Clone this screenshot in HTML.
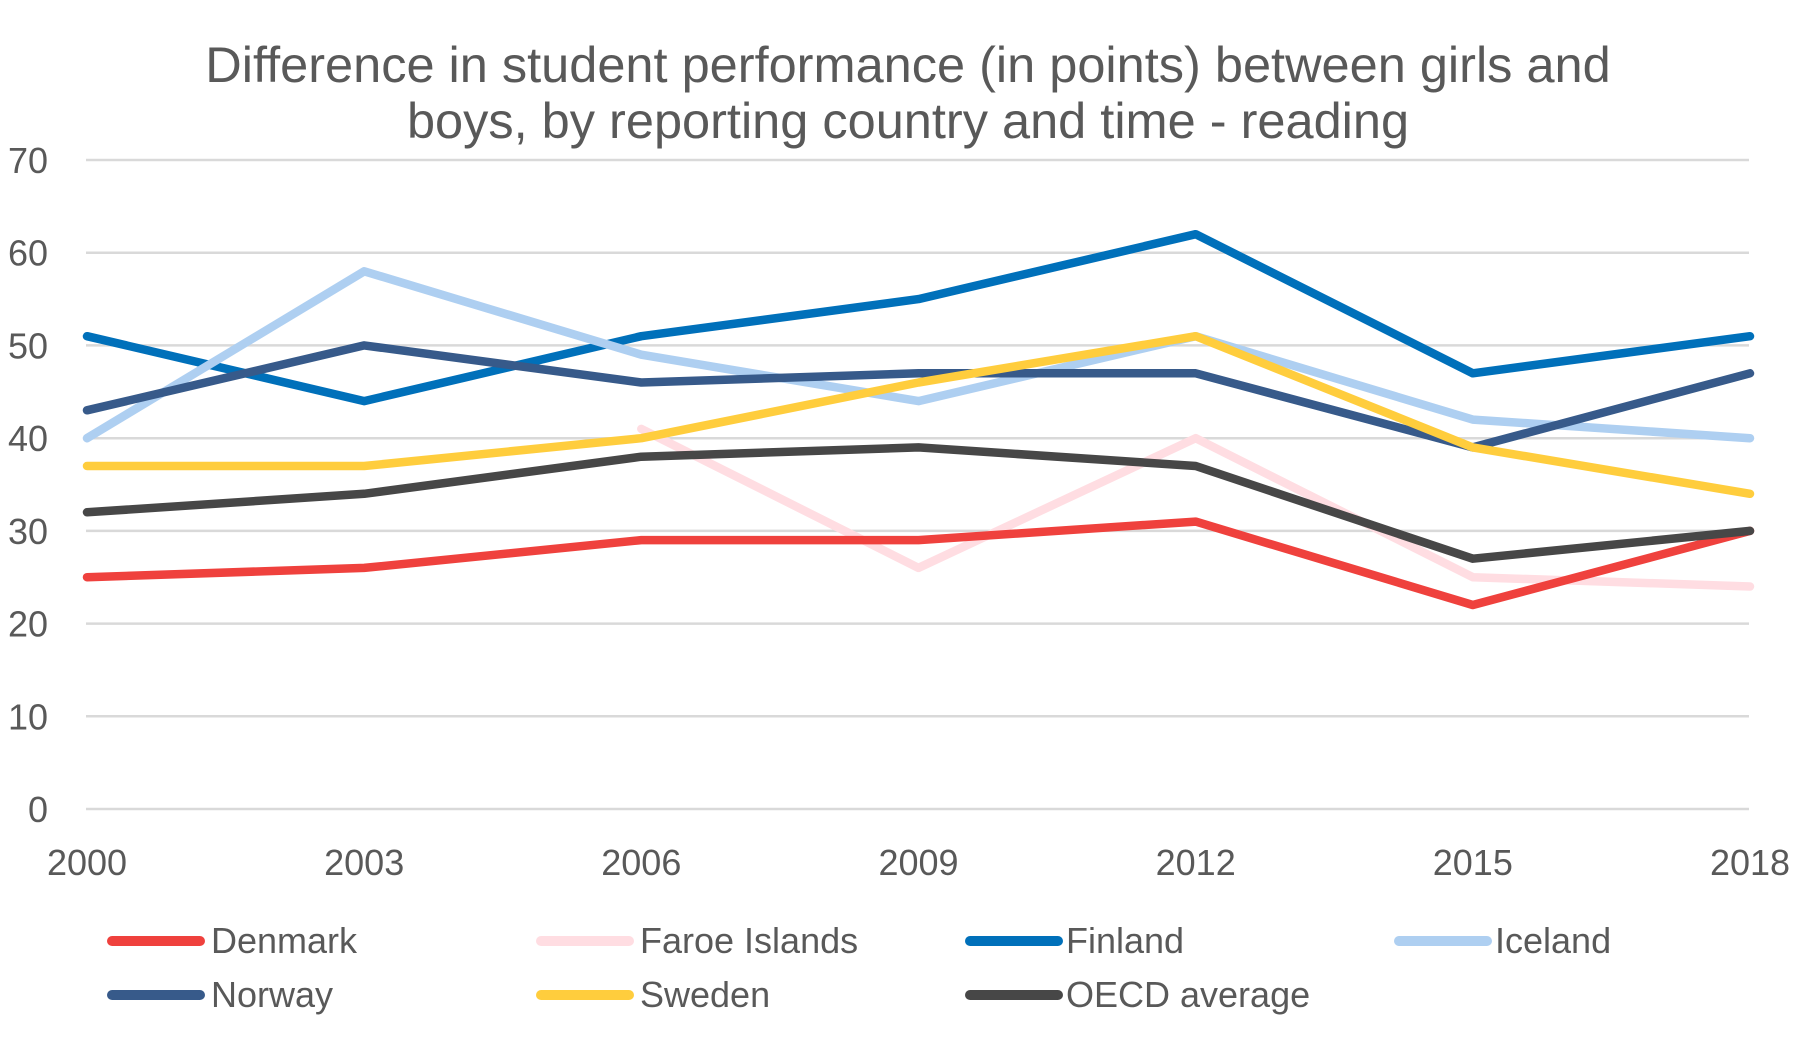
<!DOCTYPE html>
<html>
<head>
<meta charset="utf-8">
<style>
  html,body{margin:0;padding:0;background:#fff;}
  svg{display:block;}
  text{font-family:"Liberation Sans",Arial,sans-serif;fill:#595959;}
</style>
</head>
<body>
<svg width="1819" height="1049" viewBox="0 0 1819 1049" xmlns="http://www.w3.org/2000/svg">
  <rect width="1819" height="1049" fill="#ffffff"/>
  <!-- Title -->
  <text x="908" y="82" font-size="50.5" text-anchor="middle">Difference in student performance (in points) between girls and</text>
  <text x="908" y="138" font-size="50.5" text-anchor="middle">boys, by reporting country and time - reading</text>

  <!-- Gridlines -->
  <g stroke="#d9d9d9" stroke-width="2.5">
    <line x1="86" y1="160" x2="1749" y2="160"/>
    <line x1="86" y1="252.7" x2="1749" y2="252.7"/>
    <line x1="86" y1="345.4" x2="1749" y2="345.4"/>
    <line x1="86" y1="438.2" x2="1749" y2="438.2"/>
    <line x1="86" y1="530.9" x2="1749" y2="530.9"/>
    <line x1="86" y1="623.6" x2="1749" y2="623.6"/>
    <line x1="86" y1="716.3" x2="1749" y2="716.3"/>
    <line x1="86" y1="809" x2="1749" y2="809"/>
  </g>

  <!-- Y labels -->
  <g font-size="36" text-anchor="end">
    <text x="48" y="173">70</text>
    <text x="48" y="265.7">60</text>
    <text x="48" y="358.4">50</text>
    <text x="48" y="451.2">40</text>
    <text x="48" y="543.9">30</text>
    <text x="48" y="636.6">20</text>
    <text x="48" y="729.3">10</text>
    <text x="48" y="822">0</text>
  </g>

  <!-- X labels -->
  <g font-size="36" text-anchor="middle">
    <text x="87" y="875">2000</text>
    <text x="364.2" y="875">2003</text>
    <text x="641.3" y="875">2006</text>
    <text x="918.5" y="875">2009</text>
    <text x="1195.7" y="875">2012</text>
    <text x="1472.8" y="875">2015</text>
    <text x="1750" y="875">2018</text>
  </g>

  <!-- Series -->
  <g fill="none" stroke-width="8.5" stroke-linejoin="round" stroke-linecap="round">
    <polyline stroke="#FFDDE2" points="641.3,428.9 918.5,567.9 1195.7,438.2 1472.8,577.2 1750,586.5"/>
    <polyline stroke="#EF413D" points="87,577.2 364.2,567.9 641.3,540.1 918.5,540.1 1195.7,521.6 1472.8,605.0 1750,530.9"/>
    <polyline stroke="#0070BA" points="87,336.2 364.2,401.1 641.3,336.2 918.5,299.1 1195.7,234.2 1472.8,373.3 1750,336.2"/>
    <polyline stroke="#AECFF1" points="87,438.2 364.2,271.3 641.3,354.7 918.5,401.1 1195.7,336.2 1472.8,419.6 1750,438.2"/>
    <polyline stroke="#375A8A" points="87,410.3 364.2,345.4 641.3,382.5 918.5,373.3 1195.7,373.3 1472.8,447.4 1750,373.3"/>
    <polyline stroke="#FFCD3D" points="87,466.0 364.2,466.0 641.3,438.2 918.5,382.5 1195.7,336.2 1472.8,447.4 1750,493.8"/>
    <polyline stroke="#474747" points="87,512.3 364.2,493.8 641.3,456.7 918.5,447.4 1195.7,466.0 1472.8,558.7 1750,530.9"/>
  </g>

  <!-- Legend -->
  <g stroke-width="10" stroke-linecap="round">
    <line x1="112" y1="941" x2="200" y2="941" stroke="#EF413D"/>
    <line x1="541" y1="941" x2="629" y2="941" stroke="#FFDDE2"/>
    <line x1="970" y1="941" x2="1058" y2="941" stroke="#0070BA"/>
    <line x1="1399" y1="941" x2="1487" y2="941" stroke="#AECFF1"/>
    <line x1="112" y1="995" x2="200" y2="995" stroke="#375A8A"/>
    <line x1="541" y1="995" x2="629" y2="995" stroke="#FFCD3D"/>
    <line x1="970" y1="995" x2="1058" y2="995" stroke="#474747"/>
  </g>
  <g font-size="36">
    <text x="211" y="953">Denmark</text>
    <text x="640" y="953">Faroe Islands</text>
    <text x="1066" y="953">Finland</text>
    <text x="1495" y="953">Iceland</text>
    <text x="211" y="1007">Norway</text>
    <text x="640" y="1007">Sweden</text>
    <text x="1066" y="1007">OECD average</text>
  </g>
</svg>
</body>
</html>
